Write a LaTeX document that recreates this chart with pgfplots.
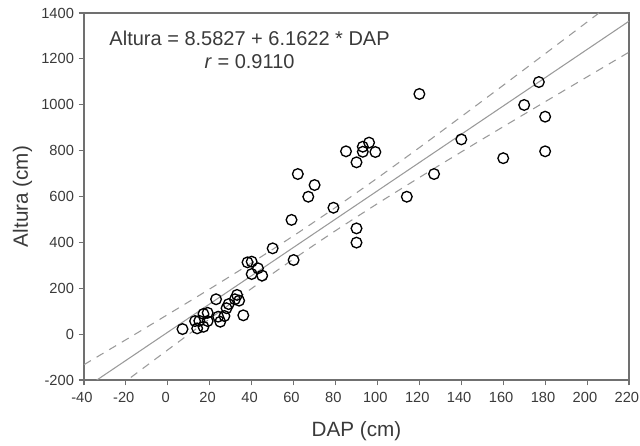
\documentclass[border=0pt]{standalone}
\usepackage{pgfplots}
\pgfplotsset{compat=1.18}
\usepackage{fontspec}
\setmainfont{Liberation Sans}
\definecolor{axgray}{HTML}{707070}
\definecolor{txtgray}{HTML}{3A3A3A}
\definecolor{linegray}{HTML}{9A9A9A}
\begin{document}
\begin{tikzpicture}[x=1pt,y=1pt]
\useasboundingbox (-63pt,-49.5pt) rectangle (417pt,285pt);
\begin{axis}[
  scale only axis,
  width=408.75pt, height=275.25pt,
  xmin=-40, xmax=220, ymin=-200, ymax=1400,
  xtick={-40,-20,...,220}, ytick={-200,0,...,1400},
  tick align=outside,
  xtick pos=bottom, ytick pos=left,
  major tick length=4pt,
  axis line style={axgray, line width=0.9pt},
  every tick/.style={axgray, line width=0.8pt},
  tick label style={font=\fontsize{11}{13}\selectfont, text=txtgray},
  xticklabel style={yshift=-2pt, xshift=-1.6pt},
  /pgf/number format/assume math mode=true,
  /pgf/number format/1000 sep={},
  xlabel={DAP (cm)}, ylabel={Altura (cm)},
  label style={font=\fontsize{15.5}{18}\selectfont, text=txtgray},
  xlabel style={yshift=-7pt},
  ylabel style={yshift=0pt},
  clip=true,
]
% regression line
\addplot[linegray, line width=0.8pt] coordinates {(-40,-237.9) (220,1364.3)};
% confidence bands
\addplot[linegray, line width=0.8pt, dash pattern=on 6pt off 5pt, smooth] coordinates {
(-40,-133.2) (-20,-24.4) (0,85.6) (20,197.0) (40,311.0) (60,429.0) (80,552.3) (100,680.7) (120,813.2) (140,948.3) (160,1084.8) (180,1222.5) (200,1360.6) (220,1499.3)};
\addplot[linegray, line width=0.8pt, dash pattern=on 6pt off 5pt, smooth] coordinates {
(-40,-342.6) (-20,-205.0) (0,-68.4) (20,66.6) (40,199.2) (60,327.6) (80,450.9) (100,568.9) (120,682.8) (140,794.3) (160,904.2) (180,1013.1) (200,1121.4) (220,1229.3)};
% data
\addplot[only marks, mark=o, mark size=4pt, mark options={black, line width=1pt}] coordinates {
(7,22) (13,57) (14,25) (15,58) (17,88) (17,32) (19,93) (19,57)
(23,152) (24,76) (25,54) (27,79) (29,131) (28,113) (33,171) (34,146) (32,152) (36,82)
(38,313) (40,316) (43,287) (40,262) (45,255) (50,374)
(60,323) (59,498) (62,698) (70,650) (67,599) (79,551)
(90,461) (90,399) (85,797) (93,817) (93,795) (96,835) (99,794) (90,749)
(114,599) (120,1047) (127,698) (140,849) (160,767) (170,999) (177,1099) (180,948) (180,797)
};
\node[font=\fontsize{15}{17.5}\selectfont, text=txtgray, align=center] at (axis cs:39,1238)
  {Altura = 8.5827 + 6.1622 * DAP\\ \textit{r} = 0.9110};
\end{axis}
\end{tikzpicture}
\end{document}
